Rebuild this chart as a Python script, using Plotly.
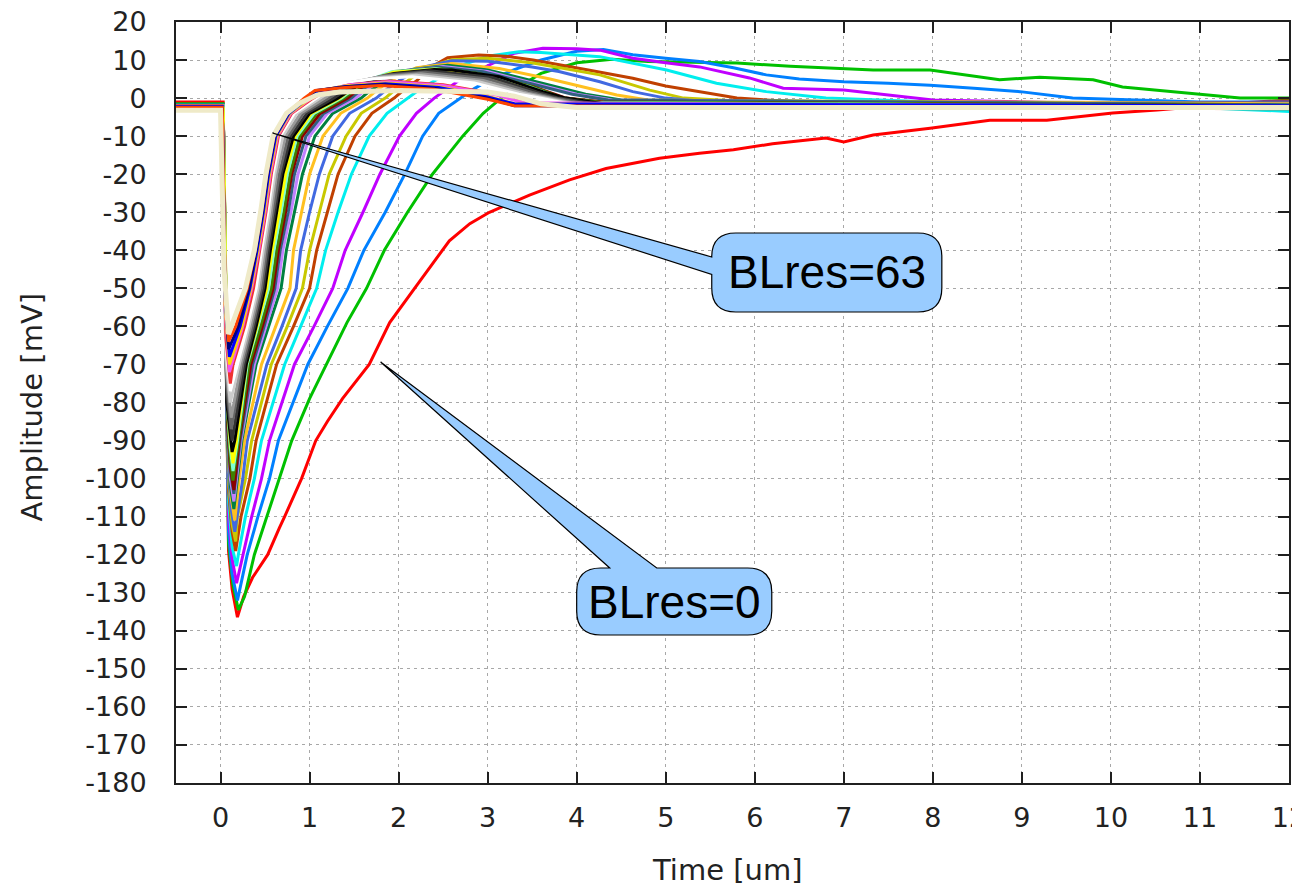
import plotly.graph_objects as go

# ---- axis ticks -------------------------------------------------------
x_ticks = [0, 1, 2, 3, 4, 5, 6, 7, 8, 9, 10, 11, 12]
x_tick_labels = ["0", "1", "2", "3", "4", "5", "6", "7", "8", "9", "10", "11", "12"]
y_ticks = [20, 10, 0, -10, -20, -30, -40, -50, -60, -70, -80, -90, -100,
           -110, -120, -130, -140, -150, -160, -170, -180]
y_tick_labels = ["20", "10", "0", "-10", "-20", "-30", "-40", "-50", "-60", "-70",
                 "-80", "-90", "-100", "-110", "-120", "-130", "-140", "-150",
                 "-160", "-170", "-180"]

# ---- pulse traces: (time [us], amplitude [mV]) per BLres setting ------
blres_00 = [(-0.5, -1.0), (0.03, -1.0), (0.09, -119), (0.13, -129), (0.19, -136.4), (0.26, -131),
            (0.36, -126), (0.53, -120), (0.66, -113), (0.72, -110), (0.91, -100), (1.07, -90),
            (1.2, -85), (1.37, -79), (1.67, -70), (1.9, -59), (2.21, -49), (2.4, -43),
            (2.57, -37.5), (2.8, -33), (3.02, -30), (3.47, -25.5), (3.92, -21.5), (4.33, -18.5),
            (4.93, -15.8), (5.38, -14.5), (5.76, -13.6), (6.2, -12), (6.8, -10.5), (7.0, -11.5),
            (7.33, -9.7), (7.97, -7.9), (8.64, -5.8), (9.28, -5.8), (9.57, -5.0), (10.02, -3.9),
            (10.52, -3.1), (11.0, -2.2), (11.45, -1.3), (12.0, -0.5)]
blres_01 = [(-0.5, -1.5), (0.03, -1.5), (0.09, -117), (0.14, -128), (0.2, -134.5), (0.27, -131),
            (0.38, -120), (0.52, -110), (0.66, -100), (0.8, -90), (1.0, -79), (1.19, -70),
            (1.42, -59), (1.64, -50), (1.84, -40), (2.1, -30), (2.38, -20), (2.55, -15),
            (2.72, -10), (2.95, -4), (3.15, 0), (3.35, 3), (3.6, 6.5), (4.0, 9.3), (4.4, 10.2),
            (4.8, 9.6), (5.3, 9.4), (5.8, 9.2), (6.4, 8.4), (7.07, 7.8), (7.33, 7.4), (7.97, 7.4),
            (8.4, 6.0), (8.75, 4.8), (9.2, 5.5), (9.8, 4.8), (10.13, 2.9), (10.6, 1.8),
            (11.08, 0.8), (11.45, 0.0), (12.0, 0.0)]
blres_02 = [(-0.5, -1.8), (0.03, -1.8), (0.09, -114), (0.13, -125), (0.19, -132), (0.3, -120),
            (0.42, -110), (0.55, -100), (0.65, -90), (0.98, -70), (1.2, -60), (1.43, -50),
            (1.61, -40), (1.85, -30), (2.07, -20), (2.27, -10), (2.45, -4), (2.69, 0), (2.85, 2.5),
            (3.0, 4.5), (3.3, 7.5), (3.6, 10), (4.0, 12.3), (4.3, 12.8), (4.63, 11.4), (5.0, 10.5),
            (5.38, 9.6), (5.76, 8.0), (6.13, 6.1), (6.5, 5.0), (7.0, 4.3), (7.5, 3.9), (7.97, 3.4),
            (8.5, 2.5), (8.98, 1.7), (9.57, 0.0), (10.3, -0.5), (11.0, -1.0), (12.0, -1.0)]
blres_03 = [(-0.5, -2.0), (0.03, -2.0), (0.09, -110), (0.13, -121), (0.18, -127.5), (0.25, -120),
            (0.35, -110), (0.46, -100), (0.55, -90), (0.83, -70), (1.05, -60), (1.26, -50),
            (1.4, -40), (1.6, -30), (1.79, -20), (2.01, -10), (2.2, -4), (2.4, 0), (2.55, 2.5),
            (2.7, 5.0), (3.0, 8.5), (3.3, 11.8), (3.62, 13.1), (4.0, 13.0), (4.26, 12.6),
            (4.63, 10.5), (5.0, 9.3), (5.38, 8.2), (5.94, 5.3), (6.32, 2.6), (7.0, 2.1), (7.5, 0.8),
            (8.0, -0.5), (9.0, -1.0), (10.0, -1.5), (11.0, -2.5), (12.0, -2.0)]
blres_04 = [(-0.5, -3.2), (0.03, -3.2), (0.09, -106), (0.13, -118), (0.18, -123), (0.2, -120),
            (0.28, -110), (0.38, -100), (0.46, -90), (0.72, -70), (0.9, -60), (1.08, -50),
            (1.18, -40), (1.32, -30), (1.47, -20), (1.67, -10), (1.87, -4), (2.1, 0), (2.25, 2.5),
            (2.4, 4.5), (2.75, 9.0), (3.0, 11.0), (3.35, 12.2), (3.6, 12.0), (4.26, 10.9),
            (5.01, 7.4), (5.57, 3.9), (6.13, 1.7), (6.8, 0.0), (8.0, -1.0), (10.0, -1.5),
            (12.0, -3.5)]
blres_05 = [(-0.5, -2.2), (0.03, -2.2), (0.09, -103), (0.13, -114), (0.17, -119), (0.23, -110),
            (0.33, -100), (0.4, -90), (0.63, -70), (0.82, -60), (1.0, -50), (1.08, -40),
            (1.2, -30), (1.32, -20), (1.51, -10), (1.7, -4), (1.95, 0), (2.05, 2.0), (2.2, 4.5),
            (2.35, 8.0), (2.55, 10.6), (2.9, 11.3), (3.2, 11.0), (3.51, 10.0), (4.1, 7.5),
            (4.63, 5.2), (5.0, 3.2), (5.38, 1.7), (5.8, 0.0), (6.5, -1.0), (12.0, -1.2)]
blres_06 = [(-0.5, -2.4), (0.03, -2.4), (0.09, -101), (0.13, -112), (0.17, -116.5), (0.19, -110),
            (0.28, -100), (0.35, -90), (0.57, -70), (0.75, -60), (0.92, -50), (1.0, -40),
            (1.11, -30), (1.22, -20), (1.41, -10), (1.58, -4), (1.85, 0), (1.95, 2.0), (2.1, 4.5),
            (2.3, 8.0), (2.6, 10.1), (3.0, 10.5), (3.51, 9.2), (4.26, 6.1), (4.82, 2.1),
            (5.2, 0.0), (6.0, -1.0), (12.0, -1.5)]
blres_07 = [(-0.5, -2.6), (0.03, -2.6), (0.09, -99), (0.12, -108), (0.16, -114), (0.25, -100),
            (0.3, -90), (0.52, -70), (0.69, -60), (0.85, -50), (0.9, -40), (1.0, -30),
            (1.11, -20), (1.26, -10), (1.45, -4), (1.75, 0), (1.85, 2.0), (2.0, 4.5), (2.25, 8.0),
            (2.6, 9.8), (3.0, 9.7), (3.5, 8.2), (3.8, 7.0), (4.26, 4.3), (4.63, 1.7), (5.0, 0.0),
            (5.5, -1.0), (12.0, -1.3)]
blres_08 = [(-0.5, -2.0), (0.03, -2.0), (0.09, -96), (0.12, -105), (0.16, -111), (0.21, -100),
            (0.27, -90), (0.46, -70), (0.62, -60), (0.78, -50), (0.82, -40), (0.91, -30),
            (1.0, -20), (1.15, -10), (1.35, -4), (1.65, 0), (1.75, 2.0), (1.9, 4.5), (2.2, 8.0),
            (2.6, 9.1), (3.13, 7.8), (3.7, 5.0), (4.07, 3.0), (4.45, 0.8), (4.8, -0.5),
            (12.0, -1.5)]
blres_09 = [(-0.5, -2.3), (0.03, -2.3), (0.08, -90), (0.11, -102), (0.15, -108), (0.19, -100),
            (0.24, -90), (0.4, -70), (0.54, -60), (0.68, -50), (0.74, -40), (0.83, -30),
            (0.92, -20), (1.06, -10), (1.26, -4), (1.58, 0), (1.68, 2.0), (1.85, 4.5),
            (2.15, 7.5), (2.55, 8.6), (3.0, 7.4), (3.6, 4.0), (4.1, 1.0), (4.5, -0.5),
            (12.0, -1.8)]
blres_10 = [(-0.5, -2.5), (0.03, -2.5), (0.08, -88), (0.11, -100), (0.15, -106), (0.18, -100),
            (0.23, -90), (0.38, -70), (0.51, -60), (0.64, -50), (0.7, -40), (0.79, -30),
            (0.87, -20), (1.0, -10), (1.2, -4), (1.52, 0), (1.62, 2.0), (1.8, 4.5), (2.1, 7.3),
            (2.5, 8.3), (3.0, 7.0), (3.55, 3.8), (4.0, 1.0), (4.4, -0.5), (12.0, -2.0)]
blres_11 = [(-0.5, -2.0), (0.03, -2.0), (0.08, -87), (0.11, -98), (0.15, -104), (0.18, -98),
            (0.22, -90), (0.36, -70), (0.49, -60), (0.61, -50), (0.67, -40), (0.76, -30),
            (0.83, -20), (0.96, -10), (1.16, -4), (1.47, 0), (1.57, 2.0), (1.75, 4.5),
            (2.05, 7.2), (2.45, 8.1), (2.95, 6.9), (3.5, 3.7), (3.95, 1.0), (4.35, -0.5),
            (12.0, -1.8)]
blres_12 = [(-0.5, -2.2), (0.03, -2.2), (0.08, -86), (0.11, -97), (0.15, -103), (0.18, -97),
            (0.21, -90), (0.34, -70), (0.47, -60), (0.59, -50), (0.65, -40), (0.73, -30),
            (0.8, -20), (0.92, -10), (1.12, -4), (1.43, 0), (1.53, 2.0), (1.7, 4.5), (2.0, 7.0),
            (2.4, 7.6), (2.76, 6.6), (3.1, 5.0), (3.51, 3.0), (3.88, 0.0), (4.3, -1.0),
            (12.0, -2.0)]
blres_13 = [(-0.5, -2.6), (0.03, -2.6), (0.08, -84), (0.11, -95), (0.14, -100.5), (0.2, -90),
            (0.32, -70), (0.45, -60), (0.57, -50), (0.63, -40), (0.71, -30), (0.78, -20),
            (0.89, -10), (1.08, -4), (1.39, 0), (1.5, 2.0), (1.66, 4.5), (1.95, 7.0), (2.45, 7.8),
            (2.9, 6.5), (3.5, 3.0), (3.85, 0.0), (4.25, -1.0), (12.0, -2.0)]
blres_15 = [(-0.5, -2.0), (0.03, -2.0), (0.08, -82), (0.11, -92), (0.14, -98), (0.19, -90),
            (0.3, -70), (0.42, -60), (0.54, -50), (0.6, -40), (0.68, -30), (0.75, -20),
            (0.86, -10), (1.05, -4), (1.36, 0), (1.47, 2.0), (1.63, 4.4), (1.92, 6.9), (2.42, 7.7),
            (2.88, 6.4), (3.47, 3.0), (3.82, 0.0), (4.2, -1.2), (12.0, -2.2)]
blres_17 = [(-0.5, -2.8), (0.03, -2.8), (0.08, -81), (0.11, -90), (0.14, -96), (0.18, -90),
            (0.29, -70), (0.41, -60), (0.52, -50), (0.58, -40), (0.66, -30), (0.73, -20),
            (0.84, -10), (1.02, -4), (1.34, 0), (1.45, 2.0), (1.62, 4.2), (1.94, 6.8), (2.4, 7.6),
            (2.85, 6.2), (3.45, 2.6), (3.85, 0.0), (4.25, -1.5), (12.0, -2.4)]
blres_19 = [(-0.5, -2.5), (0.02, -2.5), (0.07, -80), (0.13, -93), (0.16, -90), (0.29, -70),
            (0.40, -60), (0.50, -50), (0.56, -40), (0.63, -30), (0.70, -20), (0.82, -10),
            (1.0, -4), (1.32, 0), (1.45, 2.0), (1.6, 4.0), (1.95, 6.5), (2.4, 7.5), (2.6, 7.4),
            (3.13, 5.6), (3.62, 1.7), (3.88, 0.0), (4.3, -1.5), (12.0, -2.0)]
blres_21 = [(-0.5, -2.2), (0.02, -2.2), (0.07, -78), (0.13, -90), (0.27, -70), (0.38, -60),
            (0.48, -50), (0.54, -40), (0.61, -30), (0.68, -20), (0.79, -10), (0.97, -4),
            (1.27, 0), (1.4, 2.0), (1.55, 4.0), (1.9, 6.3), (2.35, 7.2), (3.05, 5.4), (3.55, 1.6),
            (3.8, 0.0), (4.2, -1.5), (12.0, -2.2)]
blres_23 = [(-0.5, -2.7), (0.02, -2.7), (0.07, -75), (0.12, -87), (0.25, -70), (0.36, -60),
            (0.46, -50), (0.52, -40), (0.59, -30), (0.66, -20), (0.76, -10), (0.93, -4),
            (1.22, 0), (1.35, 2.0), (1.5, 4.0), (1.85, 6.0), (2.3, 6.8), (3.0, 5.0), (3.5, 1.5),
            (3.75, 0.0), (4.1, -1.5), (12.0, -2.0)]
blres_25 = [(-0.5, -2.3), (0.02, -2.3), (0.06, -70), (0.12, -84), (0.23, -70), (0.34, -60),
            (0.44, -50), (0.50, -40), (0.57, -30), (0.63, -20), (0.73, -10), (0.9, -4),
            (1.17, 0), (1.3, 2.0), (1.45, 4.0), (1.8, 5.6), (2.25, 6.4), (2.95, 4.6), (3.45, 1.3),
            (3.7, 0.0), (4.0, -1.5), (12.0, -2.3)]
blres_27 = [(-0.5, -2.9), (0.02, -2.9), (0.06, -68), (0.11, -80), (0.21, -70), (0.32, -60),
            (0.42, -50), (0.48, -40), (0.55, -30), (0.61, -20), (0.70, -10), (0.86, -4),
            (1.12, 0), (1.25, 2.0), (1.42, 4.0), (1.75, 5.3), (2.2, 6.0), (2.9, 4.3), (3.4, 1.2),
            (3.65, 0.0), (3.95, -1.5), (12.0, -2.5)]
blres_29 = [(-0.5, -2.5), (0.02, -2.5), (0.06, -65), (0.11, -77), (0.19, -70), (0.30, -60),
            (0.40, -50), (0.46, -40), (0.53, -30), (0.59, -20), (0.67, -10), (0.83, -4),
            (1.08, 0), (1.2, 2.0), (1.4, 4.0), (1.7, 5.0), (2.15, 5.6), (2.85, 4.0), (3.35, 1.0),
            (3.6, 0.0), (3.9, -1.5), (12.0, -2.2)]
blres_30 = [(-0.5, -2.0), (0.02, -2.0), (0.06, -63), (0.11, -75), (0.14, -70), (0.27, -60),
            (0.37, -50), (0.44, -40), (0.51, -30), (0.57, -20), (0.65, -10), (0.8, -4),
            (1.04, 0), (1.18, 2.0), (1.45, 3.5), (1.9, 4.5), (2.5, 3.5), (3.1, 1.0), (3.4, -1.0),
            (3.8, -2.0), (12.0, -2.2)]
blres_33 = [(-0.5, -2.6), (0.02, -2.6), (0.05, -55), (0.10, -72), (0.25, -60), (0.35, -50),
            (0.43, -40), (0.5, -30), (0.56, -20), (0.64, -10), (0.79, -4), (1.02, 0), (1.15, 2.0),
            (1.45, 3.5), (1.9, 4.3), (2.5, 3.3), (3.1, 0.8), (3.4, -1.2), (12.0, -2.5)]
blres_38 = [(-0.5, -3.0), (0.02, -3.0), (0.05, -54), (0.10, -70), (0.24, -60), (0.34, -50),
            (0.42, -40), (0.49, -30), (0.55, -20), (0.63, -10), (0.78, -4), (1.0, 0), (1.12, 2.0),
            (1.4, 3.2), (1.85, 4.0), (2.45, 3.0), (3.0, 0.5), (3.3, -1.5), (12.0, -2.5)]
blres_44 = [(-0.5, -2.2), (0.02, -2.2), (0.05, -52), (0.10, -68), (0.22, -60), (0.33, -50),
            (0.41, -40), (0.48, -30), (0.54, -20), (0.62, -10), (0.77, -4), (0.98, 0), (1.1, 2.0),
            (1.4, 3.0), (1.85, 3.8), (2.45, 2.8), (3.0, 0.3), (3.3, -1.5), (12.0, -2.0)]
blres_47 = [(-0.5, -2.8), (0.02, -2.8), (0.05, -50), (0.09, -66), (0.2, -60), (0.32, -50),
            (0.4, -40), (0.47, -30), (0.53, -20), (0.61, -10), (0.76, -4), (0.96, 0), (1.08, 2.0),
            (1.4, 3.0), (1.8, 3.6), (2.4, 2.6), (3.0, 0.0), (3.3, -2.0), (12.0, -2.5)]
blres_55 = [(-0.5, -2.4), (0.02, -2.4), (0.05, -48), (0.09, -64), (0.17, -60), (0.3, -50),
            (0.39, -40), (0.46, -30), (0.52, -20), (0.6, -10), (0.75, -4), (0.94, 0), (1.06, 2.0),
            (1.4, 2.8), (1.8, 3.3), (2.4, 2.3), (3.0, -0.3), (3.3, -2.0), (12.0, -2.8)]
blres_63 = [(-0.5, -3.2), (0.0, -3.2), (0.04, -45), (0.09, -62), (0.28, -50), (0.38, -40),
            (0.45, -30), (0.51, -20), (0.59, -10), (0.74, -4), (0.89, -1.3), (1.08, 0.8),
            (1.34, 1.6), (2.0, 2.0), (3.0, 1.6), (3.3, 0.5), (3.6, -1.5), (4.0, -2.5),
            (12.0, -2.5)]

# BLres setting, its trace and the gnuplot-style line colour
traces = [
    (0, blres_00, "#ff0000"), (1, blres_01, "#00c000"), (2, blres_02, "#0080ff"),
    (3, blres_03, "#c000ff"), (4, blres_04, "#00eeee"), (5, blres_05, "#c04000"),
    (6, blres_06, "#c8c800"), (7, blres_07, "#4169e1"), (8, blres_08, "#ffc020"),
    (9, blres_09, "#008040"), (10, blres_10, "#c080ff"), (11, blres_11, "#306080"),
    (12, blres_12, "#8b0000"), (13, blres_13, "#408000"), (15, blres_15, "#7fffd4"),
    (17, blres_17, "#ffff00"), (19, blres_19, "#000000"), (21, blres_21, "#333333"),
    (23, blres_23, "#666666"), (25, blres_25, "#999999"), (27, blres_27, "#cccccc"),
    (29, blres_29, "#ffffff"), (30, blres_30, "#f03232"), (33, blres_33, "#f055f0"),
    (38, blres_38, "#ffd700"), (44, blres_44, "#0000ff"), (47, blres_47, "#000080"),
    (55, blres_55, "#ff4500"), (63, blres_63, "#efeac8"),
]

fig = go.Figure()
for blres, pts, colour in traces:
    fig.add_trace(go.Scatter(
        x=[p[0] for p in pts], y=[p[1] for p in pts],
        mode="lines", name=f"BLres={blres}",
        line=dict(color=colour, width=5 if blres == 63 else 3),
        showlegend=False, hoverinfo="skip",
    ))


def bubble_path(tip, box, attach, rx=0.27, ry=6.3):
    """Rounded call-out box with a pointed tail, in data coordinates."""
    x0, x1, top, bot = box
    tx, ty = tip
    if attach == "left":
        return (f"M {tx},{ty} L {x0},{top - ry} Q {x0},{top} {x0 + rx},{top} "
                f"L {x1 - rx},{top} Q {x1},{top} {x1},{top - ry} "
                f"L {x1},{bot + ry} Q {x1},{bot} {x1 - rx},{bot} "
                f"L {x0 + rx},{bot} Q {x0},{bot} {x0},{bot + ry} "
                f"L {x0},{top - ry - 4.6} Z")
    a0, a1 = attach
    return (f"M {tx},{ty} L {a1},{top} L {x1 - rx},{top} Q {x1},{top} {x1},{top - ry} "
            f"L {x1},{bot + ry} Q {x1},{bot} {x1 - rx},{bot} "
            f"L {x0 + rx},{bot} Q {x0},{bot} {x0},{bot + ry} "
            f"L {x0},{top - ry} Q {x0},{top} {x0 + rx},{top} L {a0},{top} Z")


callouts = [
    ("BLres=63", (0.584, -9.17), (5.517, 8.101, -35.45, -56.21), "left"),
    ("BLres=0", (1.798, -69.36), (4.0, 6.191, -123.5, -141.1), (4.371, 4.899)),
]
for text, tip, box, attach in callouts:
    fig.add_shape(type="path", xref="x", yref="y",
                  path=bubble_path(tip, box, attach),
                  fillcolor="#99ccff", line=dict(color="#000000", width=1.2),
                  layer="above")
    fig.add_annotation(x=(box[0] + box[1]) / 2, y=(box[2] + box[3]) / 2,
                       xref="x", yref="y", text=text, showarrow=False,
                       font=dict(family="Liberation Sans, Arial", size=46, color="#000000"),
                       xanchor="center", yanchor="middle")

axis_common = dict(
    showline=True, linecolor="#202020", linewidth=2, mirror="ticks",
    ticks="inside", ticklen=11, tickwidth=2, tickcolor="#202020",
    showgrid=True, gridcolor="#a8a8a8", gridwidth=1, griddash="3px,4px",
    zeroline=False, ticklabeloverflow="allow",
    tickfont=dict(family="DejaVu Sans", size=27, color="#222222"),
)
fig.update_xaxes(range=[-0.5, 12], tickvals=x_ticks, ticktext=x_tick_labels,
                 ticklabelstandoff=10, **axis_common)
fig.update_yaxes(range=[-180, 20], tickvals=y_ticks, ticktext=y_tick_labels,
                 ticklabelstandoff=22, **axis_common)

fig.add_annotation(text="Time [um]", xref="paper", yref="paper", x=0.495, y=-0.114,
                   showarrow=False, xanchor="center", yanchor="middle",
                   font=dict(family="DejaVu Sans", size=29, color="#222222"))
fig.add_annotation(text="Amplitude [mV]", xref="paper", yref="paper", x=-0.129, y=0.494,
                   showarrow=False, xanchor="center", yanchor="middle", textangle=-90,
                   font=dict(family="DejaVu Sans", size=29, color="#222222"))

fig.update_layout(
    width=1292, height=886,
    margin=dict(l=176, r=3, t=22, b=103, autoexpand=False),
    paper_bgcolor="#ffffff", plot_bgcolor="#ffffff",
    showlegend=False,
)

fig.write_html("out.html")
